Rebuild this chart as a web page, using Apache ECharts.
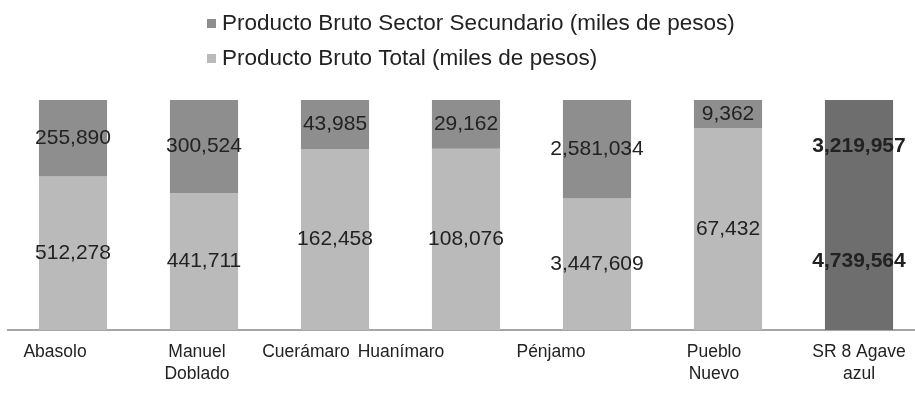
<!DOCTYPE html>
<html>
<head>
<meta charset="utf-8">
<script src="https://cdn.jsdelivr.net/npm/echarts@6/dist/echarts.min.js"></script>
<style>
  html, body { margin: 0; padding: 0; background: #fff; }
  #chart { width: 915px; height: 393px; }
</style>
</head>
<body>
<div id="chart"></div>
<script>
// Municipalities of the region, plus the regional total
const categories = ['Abasolo', 'Manuel\nDoblado', 'Cuerámaro', 'Huanímaro', 'Pénjamo', 'Pueblo\nNuevo', 'SR 8 Agave\nazul'];
// Producto Bruto Total (miles de pesos)
const totalValues = [512278, 441711, 162458, 108076, 3447609, 67432, 4739564];
// Producto Bruto Sector Secundario (miles de pesos)
const secundarioValues = [255890, 300524, 43985, 29162, 2581034, 9362, 3219957];

const seriesTotalName = 'Producto Bruto Total (miles de pesos)';
const seriesSecName = 'Producto Bruto Sector Secundario (miles de pesos)';

const FONT = '"Liberation Sans", Arial, sans-serif';
const fmt = v => v.toLocaleString('en-US');
const lastIdx = categories.length - 1;

// Leftward nudge (px) of each category label under its column
const labelNudge = [18, 7, 29, 65, 46, 14, 0];

// 100% stacked: each column is split by the share of each series
function shares(values) {
  return values.map((v, i) => {
    const sum = totalValues[i] + secundarioValues[i];
    return {
      value: v / sum * 100,
      raw: v,
      itemStyle: i === lastIdx ? { color: '#6e6e6e' } : undefined,
      label: i === lastIdx ? { fontWeight: 'bold' } : undefined
    };
  });
}

const labelCommon = {
  show: true,
  position: 'inside',
  fontFamily: FONT,
  fontSize: 21,
  color: '#222',
  formatter: p => fmt(p.data.raw)
};

// Rich styles: right padding of 2*d shifts a centred label left by d
const rich = {};
labelNudge.forEach((d, i) => {
  rich['c' + i] = {
    fontFamily: FONT,
    fontSize: 17.5,
    color: '#222',
    lineHeight: 22,
    padding: [0, 2 * d, 0, 0]
  };
});

const chart = echarts.init(document.getElementById('chart'), null, { renderer: 'canvas' });
chart.setOption({
  animation: false,
  backgroundColor: '#fff',
  legend: {
    data: [seriesSecName, seriesTotalName],
    orient: 'vertical',
    left: 202,
    top: 7,
    itemWidth: 9,
    itemHeight: 9,
    itemGap: 12,
    icon: 'rect',
    textStyle: { fontFamily: FONT, fontSize: 22.5, color: '#222', padding: [0, 0, 0, 1] },
    selectedMode: false
  },
  grid: {
    left: 7.5,
    right: -9.5,
    top: 100,
    bottom: 63,
    containLabel: false,
    outerBoundsMode: 'none'
  },
  xAxis: {
    type: 'category',
    data: categories,
    axisLine: { lineStyle: { color: '#888', width: 1.5 } },
    axisTick: { show: false },
    axisLabel: {
      fontFamily: FONT,
      fontSize: 17.5,
      color: '#222',
      margin: 11,
      lineHeight: 22,
      interval: 0,
      formatter: (value, idx) =>
        value.split('\n').map(line => '{c' + idx + '|' + line + '}').join('\n'),
      rich: rich
    }
  },
  yAxis: {
    type: 'value',
    min: 0,
    max: 100,
    show: false,
    splitLine: { show: false }
  },
  series: [
    {
      name: seriesTotalName,
      type: 'bar',
      stack: 'pct',
      barWidth: '52%',
      itemStyle: { color: '#bababa' },
      label: labelCommon,
      data: shares(totalValues)
    },
    {
      name: seriesSecName,
      type: 'bar',
      stack: 'pct',
      barWidth: '52%',
      itemStyle: { color: '#8e8e8e' },
      label: labelCommon,
      data: shares(secundarioValues)
    }
  ]
});
</script>
</body>
</html>
